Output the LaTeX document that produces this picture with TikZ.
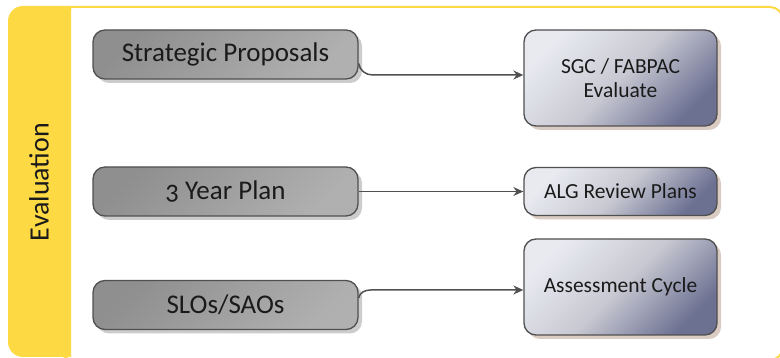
\documentclass[tikz,border=0pt]{standalone}
\usepackage{fontspec}
\setmainfont{Carlito}[Numbers=OldStyle]
\usetikzlibrary{positioning,shadows,arrows.meta}

\definecolor{bandyellow}{HTML}{FDD944}
\definecolor{edgegray}{HTML}{505050}
\definecolor{inkblack}{HTML}{1A1A1A}

\begin{document}
\begin{tikzpicture}[x=1pt, y=-1pt, thick,
  topic/.style = {draw=edgegray, line width=1.3pt, rounded corners=12pt,
    minimum width=265pt, minimum height=49pt, text=inkblack,
    shading=axis, top color=black!44, bottom color=black!31, shading angle=45,
    drop shadow={shadow xshift=4pt, shadow yshift=-4pt, fill=black!20, opacity=1},
    font=\fontsize{27}{30}\selectfont},
  action/.style = {draw=edgegray, line width=1.3pt, rounded corners=12pt,
    minimum width=193pt, text=inkblack, align=center,
    shading=axis, top color={rgb,255:red,232;green,234;blue,240}, bottom color={rgb,255:red,108;green,113;blue,146},
    middle color={rgb,255:red,200;green,200;blue,210}, shading angle=45,
    drop shadow={shadow xshift=4pt, shadow yshift=-4pt, fill={rgb,255:red,218;green,203;blue,195}, opacity=1},
    font=\fontsize{21.5}{24}\selectfont},
  link/.style = {draw=edgegray, line width=1.5pt, -{Stealth[length=10pt,width=9pt]}}]
\useasboundingbox (0,0) rectangle (780,358);

% frame and side band
\draw[bandyellow, line width=2pt, rounded corners=13pt] (60,7) rectangle (783,360);
\fill[bandyellow] (71,6) [rounded corners=15pt] -- (8,6) -- (8,357) [sharp corners] -- (71,357) -- cycle;
\node[rotate=90, text=inkblack, font=\fontsize{28}{30}\selectfont] (eval) at (39,182) {Evaluation};

% left column
\node[topic] (sp) at (225.5,54.5) {Strategic Proposals};
\node[topic] (ylp) [below of=sp, node distance=137pt] {3 Year Plan};
\node[topic] (slo) [below of=ylp, node distance=113.5pt] {SLOs/SAOs};

% right column
\node[action, minimum height=96pt] (sgc) at (620.5,78) {SGC / FABPAC\\Evaluate};
\node[action, minimum height=48pt] (alg) at (620.5,191.5) {ALG Review Plans};
\node[action, minimum height=96pt] (ac) at (620.5,287) {Assessment Cycle};

\coordinate (k1) at ([yshift=3pt]sgc.west);
\coordinate (k3) at ([yshift=-3pt]ac.west);
\draw[link] ([yshift=-9pt]sp.east) to[out=-80,in=180] ([xshift=14pt]sp.east |- k1) -- (k1);
\draw[link] (ylp.east) -- (alg.west);
\draw[link] ([yshift=7pt]slo.east) to[out=80,in=180] ([xshift=12pt]slo.east |- k3) -- (k3);
\end{tikzpicture}
\end{document}
